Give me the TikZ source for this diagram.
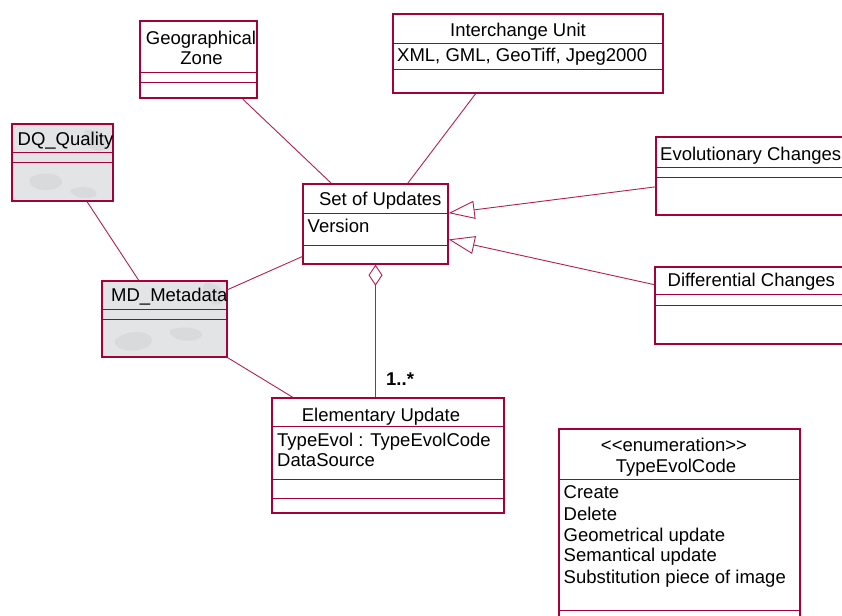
\documentclass[tikz,border=0pt]{standalone}
\usepackage{fontspec}
\setmainfont{Liberation Sans}
\usetikzlibrary{calc,arrows.meta}
\definecolor{umlc}{RGB}{165,0,55}
\definecolor{linec}{RGB}{180,30,80}
\definecolor{marble}{RGB}{226,228,230}
\begin{document}
\begin{tikzpicture}[x=1pt,y=-1pt,
  classbox/.style={draw=umlc, line width=1.3pt, inner sep=0pt, fill=white},
  greybox/.style={classbox, fill=marble},
  divider/.style={draw=umlc, line width=1pt},
  conn/.style={draw=linec, line width=0.9pt},
  blot/.style={fill=gray, opacity=0.09},
  txt/.style={inner sep=0pt, font=\fontsize{18.5}{22}\selectfont, text=black},
  tl/.style={txt, anchor=base west},
  tc/.style={txt, anchor=base},
  gen/.style={conn, -{Triangle[open, length=26pt, width=18pt, fill=white]}},
  agg/.style={conn, {Diamond[open, length=21pt, width=14pt, fill=white]}-}
]
\useasboundingbox (0,0) rectangle (842,615);
\clip (0,0) rectangle (842,615);

% ---- class boxes ----
\node[classbox, minimum width=117pt, minimum height=77pt] (geo) at (198.5,59.5) {};
\draw[divider] (140,72.5) -- (257,72.5);
\draw[divider] (140,83) -- (257,83);

\node[classbox, minimum width=270pt, minimum height=79pt] (iu) at (528,53.5) {};
\draw[divider] (393,43.5) -- (663,43.5);
\draw[divider] (393,70) -- (663,70);

\node[greybox, minimum width=101pt, minimum height=77pt] (dq) at (62.5,162.5) {};
\begin{scope}
  \clip (12,124) rectangle (113,201);
  \fill[blot] (30,178) .. controls (45,168) and (70,176) .. (60,186) .. controls (50,194) and (25,190) .. (30,178);
  \fill[blot] (85,130) .. controls (100,128) and (112,140) .. (104,150) .. controls (95,156) and (80,142) .. (85,130);
  \fill[blot] (70,190) .. controls (82,184) and (100,188) .. (96,196) .. controls (88,200) and (72,198) .. (70,190);
\end{scope}
\draw[classbox, fill=none] (12,124) rectangle (113,201);
\draw[divider] (12,152) -- (113,152);
\draw[divider] (12,162.5) -- (113,162.5);

\node[greybox, minimum width=125pt, minimum height=76pt] (md) at (164.5,319) {};
\begin{scope}
  \clip (102,281) rectangle (227,357);
  \fill[blot] (115,340) .. controls (130,326) and (160,332) .. (150,345) .. controls (140,354) and (112,352) .. (115,340);
  \fill[blot] (205,283) .. controls (222,282) and (230,298) .. (220,304) .. controls (210,308) and (198,292) .. (205,283);
  \fill[blot] (170,330) .. controls (185,324) and (210,330) .. (200,338) .. controls (190,344) and (168,340) .. (170,330);
\end{scope}
\draw[classbox, fill=none] (102,281) rectangle (227,357);
\draw[divider] (102,309.5) -- (227,309.5);
\draw[divider] (102,319.5) -- (227,319.5);

\node[classbox, minimum width=145pt, minimum height=80pt] (sou) at (375.5,224) {};
\draw[divider] (303,213.5) -- (448,213.5);
\draw[divider] (303,245) -- (448,245);

\node[classbox, minimum width=204pt, minimum height=78pt] (evo) at (758,176) {};
\draw[divider] (656,167) -- (860,167);
\draw[divider] (656,177) -- (860,177);

\node[classbox, minimum width=205pt, minimum height=77pt] (diff) at (757.5,305.5) {};
\draw[divider] (655,294.5) -- (860,294.5);
\draw[divider] (655,305) -- (860,305);

\node[classbox, minimum width=232pt, minimum height=115pt] (eu) at (388,455.5) {};
\draw[divider] (272,426) -- (504,426);
\draw[divider] (272,479) -- (504,479);
\draw[divider] (272,498) -- (504,498);

\node[classbox, minimum width=241pt, minimum height=201pt] (tec) at (679.5,529.5) {};
\draw[divider] (559,479.5) -- (800,479.5);
\draw[divider] (559,610) -- (800,610);

% ---- texts ----
\node[tc] (geoT1) at (201,44.3) {Geographical};
\node[tc] (geoT2) at (201.5,65) {Zone};
\node[tc] (iuT) at (518,36.7) {Interchange Unit};
\node[tl] (iuA) at (397,61.7) {XML, GML, GeoTiff, Jpeg2000};
\node[tl] (dqT) at (17.5,145.7) {DQ\_Quality};
\node[tl] (mdT) at (111,301.7) {MD\_Metadata};
\node[tc] (souT) at (380.3,205.7) {Set of Updates};
\node[tl] (souA) at (307.5,232.7) {Version};
\node[tl] (evoT) at (660,160.7) {Evolutionary Changes};
\node[tl] (diffT) at (667.5,286.7) {Differential Changes};
\node[tc] (euT) at (381,421) {Elementary Update};
\node[tl] (euA1) at (277,446) {TypeEvol : TypeEvolCode};
\node[tl] (euA2) at (277,466) {DataSource};
\node[tl, font=\fontsize{18.5}{22}\selectfont\bfseries] (mult) at (386,385.7) {1..*};
\node[tc] (tecS) at (674,451.7) {{<}{<}enumeration{>}{>}};
\node[tc] (tecT) at (676,472.7) {TypeEvolCode};
\node[tl] (tec1) at (563.5,498.3) {Create};
\node[tl] (tec2) at (563.5,520.7) {Delete};
\node[tl] (tec3) at (563.5,541) {Geometrical update};
\node[tl] (tec4) at (563.5,561.7) {Semantical update};
\node[tl] (tec5) at (563.5,583.3) {Substitution piece of image};

% ---- connectors ----
\draw[conn] ($(geo.south west)!0.87!(geo.south east)$) -- ($(sou.north west)!0.198!(sou.north east)$);
\draw[conn] ($(iu.south west)!0.307!(iu.south east)$) -- ($(sou.north west)!0.72!(sou.north east)$);
\draw[conn] ($(dq.south west)!0.74!(dq.south east)$) -- ($(md.north west)!0.296!(md.north east)$);
\draw[conn] ($(md.north east)!0.12!(md.south east)$) -- ($(sou.north west)!0.9!(sou.south west)$);
\draw[conn] (md.south east) -- ($(eu.north west)!0.092!(eu.north east)$);
\draw[agg] (sou.south) -- (sou.south |- eu.north);
\draw[gen] ($(evo.north west)!0.637!(evo.south west)$) -- ($(sou.north east)!0.366!(sou.south east)$);
\draw[gen] ($(diff.north west)!0.234!(diff.south west)$) -- ($(sou.north east)!0.69!(sou.south east)$);
\end{tikzpicture}
\end{document}
